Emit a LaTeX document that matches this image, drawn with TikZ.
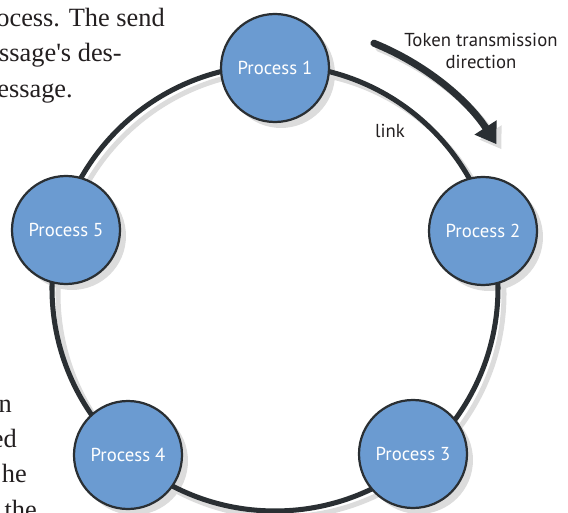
\documentclass[tikz,border=0pt]{standalone}
\usepackage{fontspec}
\usepackage{tikz}
\usetikzlibrary{arrows.meta,backgrounds}
\newfontfamily\labelfont{PT Sans}
\newfontfamily\bookfont{Liberation Serif}
\definecolor{procblue}{HTML}{6B9BD1}
\definecolor{ringdark}{HTML}{2A2F33}
\definecolor{shadowgrey}{HTML}{DCDCDC}
\definecolor{inkdark}{HTML}{231F20}

\begin{document}
\begin{tikzpicture}[scale=0.03,
  proc/.style={circle, draw=ringdark, line width=1.9pt, fill=procblue,
    minimum size=3.24cm, text=white, font=\labelfont\fontsize{16}{19}\selectfont},
  ring/.style={ringdark, line width=4.3pt},
  ringshadow/.style={shadowgrey, line width=4.3pt},
  tokarrow/.style={ringdark, line width=6pt, line cap=round,
    -{Triangle[length=0.6cm,width=0.75cm]}},
  tokshadow/.style={shadowgrey, line width=6pt, line cap=round,
    -{Triangle[length=0.6cm,width=0.75cm]}},
  note/.style={text=inkdark, align=center, font=\labelfont\fontsize{16}{19}\selectfont},
  booktext/.style={anchor=base east, text=inkdark, font=\bookfont\fontsize{22.5}{27}\selectfont}]
\tikzstyle{every node}+=[inner sep=0pt]
\clip (0,0) rectangle (568,-513);
\coordinate (ctr) at (275,-288);
% processes
\node [proc] (p1) at (275,-68) {Process 1};
\node [proc] (p2) at (483,-231) {Process 2};
\node [proc] (p3) at (413,-454) {Process 3};
\node [proc] (p4) at (128,-455) {Process 4};
\node [proc] (p5) at (66,-230) {Process 5};
% ring and shadows
\begin{scope}[on background layer]
\foreach \p in {p1,p2,p3,p4,p5}
  \fill [shadowgrey] ([shift={(6,-6)}]\p.center) circle (54);
\draw [ringshadow] ([shift={(6,-6)}]ctr) circle (223);
\draw [ring] (ctr) circle (223);
\end{scope}
% token direction
\draw [tokshadow] ([shift={(5,-5)}]ctr) ++(68:264) arc (68:33:264);
\draw [tokarrow] (ctr) ++(68:264) arc (68:33:264);
\node [note, anchor=north] (tok) at (481,-33) {Token transmission\\direction};
\node [note] (lnk) at (390,-131) {link};
% page text
\node [booktext] (b1) at (165,-27) {ocess. The send};
\node [booktext] (b2) at (122,-62) {ssage\textquotesingle s des-};
\node [booktext] (b3) at (73,-98) {essage.};
\node [booktext] (b4) at (12,-412) {n};
\node [booktext] (b5) at (17,-447) {ed};
\node [booktext] (b6) at (27,-482) {he};
\node [booktext] (b7) at (37,-518) {the};
\end{tikzpicture}
\end{document}
